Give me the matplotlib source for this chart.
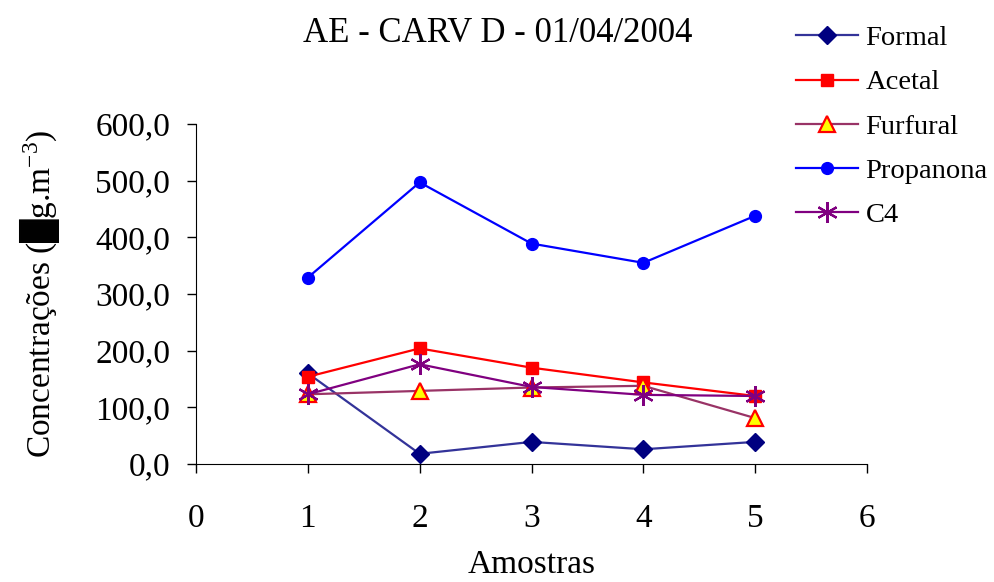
import numpy as np
import matplotlib.pyplot as plt
from matplotlib.ticker import FuncFormatter

plt.rcParams['font.family'] = ['Liberation Serif', 'DejaVu Sans']
plt.rcParams['mathtext.fontset'] = 'custom'
plt.rcParams['mathtext.rm'] = 'Liberation Serif'
plt.rcParams['mathtext.it'] = 'Liberation Serif'

amostras = [1, 2, 3, 4, 5]
formal = [160, 18, 39, 26, 39]
acetal = [154, 204, 170, 144, 120]
furfural = [123, 129, 135, 138, 81]
propanona = [329, 497, 389, 355, 438]
c4 = [123, 176, 136, 122, 120]

fig = plt.figure(figsize=(9.94, 5.82), dpi=100)
ax = fig.add_axes([196 / 994, 1 - 464 / 582, (867 - 196) / 994, (464 - 124) / 582])

ax.plot(amostras, formal, color='#333399', lw=1.6, marker='D', ms=9,
        mfc='#000080', mec='#000080', label='Formal')
ax.plot(amostras, acetal, color='#ff0000', lw=1.6, marker='s', ms=8,
        mfc='#ff0000', mec='#ff0000', label='Acetal')
ax.plot(amostras, furfural, color='#993366', lw=1.6, marker='^', ms=12,
        mfc='#ffff00', mec='#ff0000', mew=1.6, label='Furfural')
ax.plot(amostras, propanona, color='#0000ff', lw=1.6, marker='o', ms=8.5,
        mfc='#0000ff', mec='#0000ff', label='Propanona')
ax.plot(amostras, c4, color='#800080', lw=1.6, marker=(6, 2, 0), ms=15,
        mfc='#800080', mec='#800080', mew=1.6, label='C4')

ax.set_xlim(0, 6)
ax.set_ylim(0, 600)
ax.set_xticks(range(0, 7))
ax.set_yticks(range(0, 601, 100))
ax.yaxis.set_major_formatter(FuncFormatter(lambda v, p: f'{v:.1f}'.replace('.', ',')))
ax.tick_params(direction='out', length=6.5, width=1, labelsize=24)
ax.tick_params(axis='x', pad=22)
ax.tick_params(axis='y', pad=12)
ax.spines['top'].set_visible(False)
ax.spines['right'].set_visible(False)

ax.set_xlabel('Amostras', fontsize=24, labelpad=11)
ax.set_ylabel('Concentrações (█g.m$^{-3}$)', fontsize=24, labelpad=24)

fig.text(498 / 994, 1 - 33 / 582, 'AE - CARV D - 01/04/2004', fontsize=25,
         ha='center', va='center')

fig.legend(loc='upper left', bbox_to_anchor=(785 / 994, 1 - 14 / 582),
           frameon=False, fontsize=20.5, handlelength=2.18, labelspacing=0.64,
           handletextpad=0.25, borderaxespad=0)

fig.savefig('out.png', dpi=100)
